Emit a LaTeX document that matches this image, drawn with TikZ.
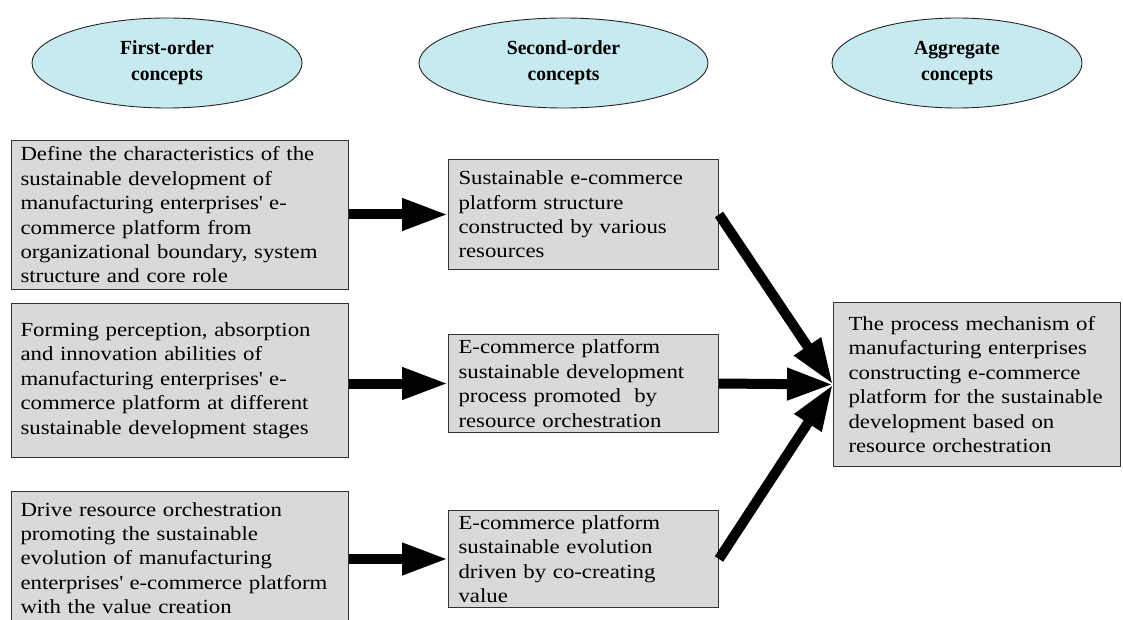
\documentclass[tikz,border=0pt]{standalone}
\usepackage{fontspec}
\setmainfont{Liberation Serif}[FakeStretch=1.14, BoldFeatures={FakeStretch=0.98}]
\usetikzlibrary{shapes.geometric,arrows.meta}
\definecolor{capfill}{RGB}{198,234,240}
\definecolor{boxfill}{RGB}{217,217,217}
\newcommand{\apos}{\textquotesingle}
\begin{document}
\begin{tikzpicture}[x=1pt,y=-1pt,
  heading/.style={ellipse, draw=black!85, line width=0.9pt, fill=capfill,
    minimum height=90pt, inner sep=0pt, align=center,
    font=\fontsize{20}{26}\selectfont\bfseries},
  concept/.style={rectangle, draw=black!80, line width=1pt, fill=boxfill,
    align=left, anchor=north west, inner sep=0pt,
    font=\fontsize{20}{24.4}\selectfont},
  leftbox/.style={concept, minimum width=337pt, text width=319pt},
  midbox/.style={concept, minimum width=270pt, text width=250pt},
  aggbox/.style={concept, minimum width=287pt, text width=281pt,
    execute at begin node={\leftskip=12pt}},
  flow/.style={line width=10pt, -{Triangle[length=46pt,width=30pt]}}
]
\useasboundingbox (0,0) rectangle (1123,620);

% column headings
\node[heading, minimum width=270pt] (h1) at (167,63) {First-order\\concepts};
\node[heading, minimum width=289pt] (h2) at (563.5,63) {Second-order\\concepts};
\node[heading, minimum width=250pt] (h3) at (957,63) {Aggregate\\concepts};

% first-order concepts
\node[leftbox, minimum height=149pt] (b1) at (11,140) {Define the characteristics of the\\
sustainable development of\\
manufacturing enterprises\apos{} e-\\
commerce platform from\\
organizational boundary, system\\
structure and core role};
\node[leftbox, minimum height=154pt] (b2) at (11,303) {Forming perception, absorption\\
and innovation abilities of\\
manufacturing enterprises\apos{} e-\\
commerce platform at different\\
sustainable development stages};
\node[leftbox, minimum height=133pt] (b3) at (11,491) {Drive resource orchestration\\
promoting the sustainable\\
evolution of manufacturing\\
enterprises\apos{} e-commerce platform\\
with the value creation};

% second-order concepts
\node[midbox, minimum height=110pt] (m1) at (448,159) {Sustainable e-commerce\\
platform structure\\
constructed by various\\
resources};
\node[midbox, minimum height=98pt] (m2) at (448,334) {E-commerce platform\\
sustainable development\\
process promoted\ \ by\\
resource orchestration};
\node[midbox, minimum height=97pt] (m3) at (448,510) {E-commerce platform\\
sustainable evolution\\
driven by co-creating\\
value};

% aggregate concept
\node[aggbox, minimum height=164pt] (r) at (833,302) {The process mechanism of\\
manufacturing enterprises\\
constructing e-commerce\\
platform for the sustainable\\
development based on\\
resource orchestration};

% connectors
\draw[flow] (b1.east |- m1.west) -- (m1.west);
\draw[flow] (b2.east |- m2.west) -- (m2.west);
\draw[flow] (b3.east |- m3.west) -- (m3.west);
\draw[flow] (m1.east) -- (r.west);
\draw[flow] (m2.east) -- (r.west);
\draw[flow] (m3.east) -- (r.west);
\end{tikzpicture}
\end{document}
